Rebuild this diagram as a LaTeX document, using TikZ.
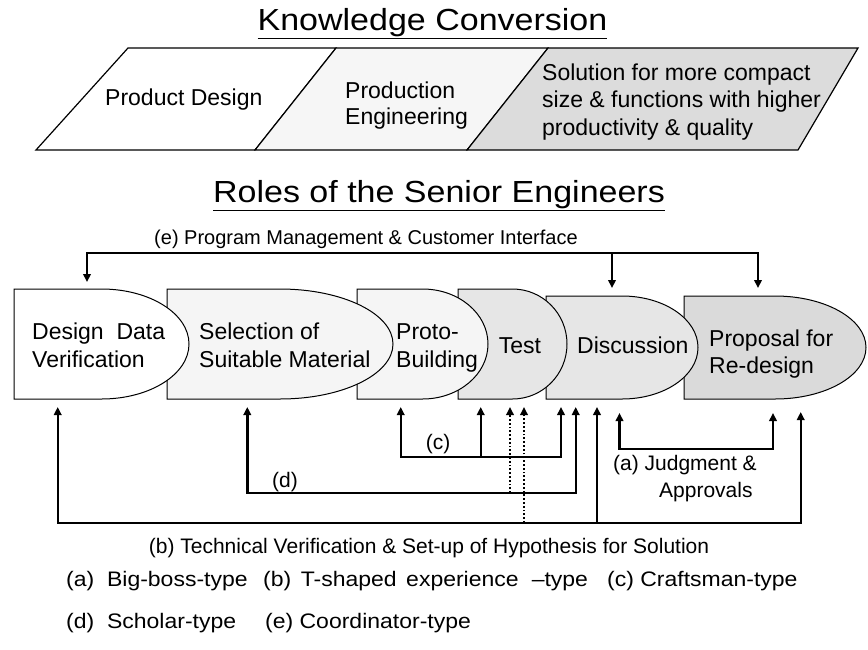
\documentclass[tikz,border=0pt]{standalone}
\usepackage{fontspec}
\setmainfont{Liberation Sans}
\newfontfamily\titlefont[FakeStretch=1.115]{Liberation Sans}
\newfontfamily\legendfont[FakeStretch=1.095]{Liberation Sans}
\usetikzlibrary{arrows.meta}
\definecolor{bandmid}{HTML}{F6F6F6}
\definecolor{banddark}{HTML}{DCDCDC}
\definecolor{boxlight}{HTML}{F5F5F5}
\definecolor{boxmid}{HTML}{E6E6E6}
\definecolor{boxdark}{HTML}{DADADA}
\newcommand{\delaybox}[6]{% fill, left, top, bottom, xc, rx
  \path[boxline,fill=#1] (#2,#3) -- (#5,#3)
    arc[start angle=90,end angle=-90,x radius=#6 pt,y radius={(#4-#3)/2*1pt}]
    -- (#2,#4) -- cycle;}
\begin{document}
\begin{tikzpicture}[x=1pt,y=-1pt,
  >={Triangle[length=8pt,width=7.5pt]},
  boxline/.style={draw=black,line width=1pt},
  bandline/.style={draw=black,line width=1.2pt},
  conn/.style={line width=2.4pt,<->},
  arr/.style={line width=2.4pt,->},
  darr/.style={line width=1.8pt,dotted,->},
  titletext/.style={font=\titlefont\fontsize{30.5}{34}\selectfont,inner sep=0pt},
  bigtext/.style={font=\fontsize{23}{27}\selectfont,inner sep=0pt},
  labeltext/.style={font=\fontsize{21}{25}\selectfont,inner sep=0pt},
  etext/.style={font=\fontsize{20}{24}\selectfont,inner sep=0pt},
  legendtext/.style={font=\legendfont\fontsize{21}{25}\selectfont,inner sep=0pt}]
\useasboundingbox (0,0) rectangle (868,649);
\fill[white] (0,0) rectangle (868,649);

% titles
\node[titletext,anchor=base] (t1) at (432.5,30) {\underline{Knowledge Conversion}};
\node[titletext,anchor=base] (t2) at (439,202) {\underline{Roles of the Senior Engineers}};

% knowledge band
\path[bandline,fill=white] (36,150) -- (128,48) -- (336,48) -- (255,150) -- cycle;
\path[bandline,fill=bandmid] (255,150) -- (336,48) -- (548,48) -- (467,150) -- cycle;
\path[bandline,fill=banddark] (467,150) -- (548,48) -- (858,48) -- (798,150) -- cycle;
\node[bigtext,anchor=base west] (pd) at (105,105) {Product Design};
\node[bigtext,anchor=base west] (pe1) at (345,98.5) {Production};
\node[bigtext,anchor=base west] (pe2) at (345,124) {Engineering};
\node[bigtext,anchor=base west] (so1) at (542,80) {Solution for more compact};
\node[bigtext,anchor=base west] (so2) at (542,107.5) {size \& functions with higher};
\node[bigtext,anchor=base west] (so3) at (542,135) {productivity \& quality};

% process boxes (right to left so that each curve lies over the next box)
\delaybox{boxdark}{684}{296}{399}{775}{91}
\delaybox{boxmid}{546}{296}{399}{622}{76}
\delaybox{boxmid}{458}{289}{399}{512.5}{54.5}
\delaybox{boxlight}{357}{289}{399}{422.5}{65.5}
\delaybox{boxlight}{167}{289}{399}{280}{113}
\delaybox{white}{14}{289}{399}{101.5}{87.5}

\node[bigtext,anchor=base west] (b1a) at (32,339) {Design\ \ Data};
\node[bigtext,anchor=base west] (b1b) at (32,367) {Verification};
\node[bigtext,anchor=base west] (b2a) at (199,339) {Selection of};
\node[bigtext,anchor=base west] (b2b) at (199,367) {Suitable Material};
\node[bigtext,anchor=base west] (b3a) at (396,339) {Proto-};
\node[bigtext,anchor=base west] (b3b) at (396,367) {Building};
\node[bigtext,anchor=base] (b4) at (520,353) {Test};
\node[bigtext,anchor=base west] (b5) at (577,353) {Discussion};
\node[bigtext,anchor=base west] (b6a) at (709,346) {Proposal for};
\node[bigtext,anchor=base west] (b6b) at (709,373) {Re-design};

% (e) coordinator line
\coordinate (eL) at (87,252.7);
\coordinate (eM) at (612,252.7);
\coordinate (eR) at (758,252.7);
\coordinate (eLt) at (87,282);
\coordinate (eMt) at (612,288);
\coordinate (eRt) at (758,288);
\draw[conn] (eLt) -- (eL) -- (eR) -- (eRt);
\draw[arr] (eM) -- (eMt);
\node[etext,anchor=base] (el) at (366,244) {(e) Program Management \& Customer Interface};

% (b) technical verification
\coordinate (bL) at (57.7,522.7);
\coordinate (bM) at (597,522.7);
\coordinate (bR) at (800.7,522.7);
\coordinate (bD) at (524,522.7);
\coordinate (bLt) at (57.7,407);
\coordinate (bMt) at (597,407);
\coordinate (bRt) at (800.7,412);
\coordinate (bDt) at (524,407);
\draw[conn] (bLt) -- (bL) -- (bR) -- (bRt);
\draw[arr] (bM) -- (bMt);
\draw[darr] (bD) -- (bDt);
\node[labeltext,anchor=base] (bl) at (429,553) {(b) Technical Verification \& Set-up of Hypothesis for Solution};

% (d) scholar
\coordinate (dL) at (247.3,493);
\coordinate (dR) at (575.7,493);
\coordinate (dD) at (510,493);
\coordinate (dLt) at (247.3,407);
\coordinate (dRt) at (575.7,407);
\coordinate (dDt) at (510,407);
\draw[conn] (dLt) -- (dL) -- (dR) -- (dRt);
\draw[darr] (dD) -- (dDt);
\node[labeltext,anchor=base] (dl) at (285,487) {(d)};

% (c) craftsman
\coordinate (cL) at (400.7,456.7);
\coordinate (cM) at (480.7,456.7);
\coordinate (cR) at (561,456.7);
\coordinate (cLt) at (400.7,407);
\coordinate (cMt) at (480.7,407);
\coordinate (cRt) at (561,407);
\draw[conn] (cLt) -- (cL) -- (cR) -- (cRt);
\draw[arr] (cM) -- (cMt);
\node[labeltext,anchor=base] (cl) at (438,449) {(c)};

% (a) big boss
\coordinate (aL) at (619.5,449);
\coordinate (aR) at (773,449);
\coordinate (aLt) at (619.5,413);
\coordinate (aRt) at (773,413);
\draw[conn] (aLt) -- (aL) -- (aR) -- (aRt);
\node[labeltext,anchor=base west] (al1) at (613,470) {(a) Judgment \&};
\node[labeltext,anchor=base west] (al2) at (659,497) {Approvals};

% legend
\node[legendtext,anchor=base west] (lg1) at (66,586) {\makebox[197pt][l]{(a)\ \ Big-boss-type}\makebox[344pt][s]{(b) T-shaped experience\ \,–type\ \ }(c) Craftsman-type};
\node[legendtext,anchor=base west] (lg2) at (66,628) {\makebox[199pt][l]{(d)\ \ Scholar-type}(e) Coordinator-type};
\end{tikzpicture}
\end{document}
